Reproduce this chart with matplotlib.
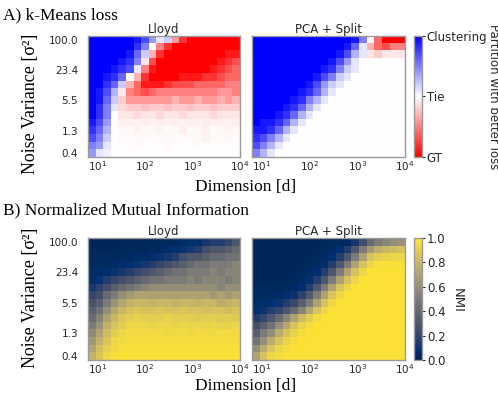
import matplotlib
matplotlib.use('Agg')
import matplotlib.pyplot as plt
import numpy as np

# rows: noise variance from 100.0 (top) down to 0.4, cols: dimension 10^0.8 .. 10^4
noise_labels = ['100.0', '23.4', '5.5', '1.3', '0.4']
noise_label_rows = [0, 4, 8, 12, 15]
dim_labels = [r'$10^{1}$', r'$10^{2}$', r'$10^{3}$', r'$10^{4}$']
dim_label_pos = [1, 2, 3, 4]
log_dim_range = (0.8, 4.0)

# k-means loss: +10 = clustering better, -10 = ground truth better (tenths)
loss_lloyd = [
    "10 10 10 10 10 10 9 7 4 1 2 -4 -8 -10 -10 -10 -10 -10 -10 -10",
    "10 10 10 10 10 10 8 5 0 -5 -8 -10 -10 -10 -10 -10 -10 -10 -10 -10",
    "10 10 10 10 10 9 6 2 -3 -8 -10 -10 -10 -10 -10 -10 -10 -10 -9 -9",
    "10 10 10 10 9 8 5 -1 -7 -10 -10 -10 -10 -10 -10 -10 -10 -9 -8 -7",
    "10 10 10 9 8 7 1 -5 -9 -10 -10 -10 -10 -10 -10 -10 -9 -8 -7 -6",
    "10 10 9 8 6 0 -3 -8 -10 -10 -10 -10 -9 -9 -9 -8 -8 -7 -6 -6",
    "10 10 8 6 2 -3 -6 -9 -9 -9 -8 -7 -7 -7 -6 -6 -6 -6 -5 -5",
    "10 9 7 3 -1 -5 -6 -7 -6 -5 -5 -5 -5 -5 -5 -5 -5 -4 -4 -5",
    "10 9 6 2 -2 -4 -4 -4 -4 -4 -4 -3 -4 -4 -3 -4 -4 -3 -4 -3",
    "10 8 5 1 -1.5 -2 -2 -2.5 -2 -2 -2.5 -2 -2 -2.5 -2 -2 -2.5 -2 -2 -2",
    "10 8 5 0 -1 -1 -1.5 -1 -1 -1.5 -1 -1 -1.5 -1 -1 -1 -1.5 -1 -1 -1",
    "9 7 4 0 -0.5 -0.7 -0.5 -0.7 -0.5 -0.7 -0.5 -0.7 -0.5 -0.7 -0.5 -0.7 -0.5 -0.7 -0.5 -0.7",
    "8 6 3 0 -0.3 -0.2 -0.5 -0.2 -0.3 -0.5 -0.2 -0.3 -0.6 -0.2 -0.3 -0.6 -0.2 -0.3 -0.5 -0.3",
    "7 5 2 0 -0.2 -0.2 -0.2 -0.3 -0.2 -0.2 -0.3 -0.2 -0.2 -0.3 -0.2 -0.5 -0.2 -0.2 -0.3 -0.2",
    "5 4 1 0 -0.1 -0.1 -0.2 -0.1 -0.1 -0.1 -0.2 -0.1 -0.1 -0.1 -0.2 -0.1 -0.1 -0.1 -0.1 -0.1",
    "4 1 0.5 0 0 -0.1 0 -0.1 0 0 -0.1 0 0 -0.1 0 0 -0.1 0 0 0",
]
loss_pca = [
    "10 10 10 10 10 10 10 10 10 10 10 10 10 9 5 0 -6 -10 -10 -10",
    "10 10 10 10 10 10 10 10 10 10 10 10 9 6 1 -3 -6 -7 -5 -5",
    "10 10 10 10 10 10 10 10 10 10 10 9 7 3 1 -1 -2 -1 -1 -1",
    "10 10 10 10 10 10 10 10 10 10 9 7 4 1 0 0 0 0 0 0",
    "10 10 10 10 10 10 10 10 10 9 8 5 2 1 0 0 0 0 0 0",
    "10 10 10 10 10 10 10 10 9 7 5 2 1 0 0 0 0 0 0 0",
    "10 10 10 10 10 10 10 9 7 4 2 1 0 0 0 0 0 0 0 0",
    "10 10 10 10 10 10 9 8 6 3 1 0 0 0 0 0 0 0 0 0",
    "10 10 10 10 10 9 8 5 3 1 0 0 0 0 0 0 0 0 0 0",
    "10 10 10 10 9 8 6 3 1 0 0 0 0 0 0 0 0 0 0 0",
    "10 10 10 9 8 6 3 1 0 0 0 0 0 0 0 0 0 0 0 0",
    "10 9 9 8 6 3 1 0 0 0 0 0 0 0 0 0 0 0 0 0",
    "9 9 8 6 3 1 0 0 0 0 0 0 0 0 0 0 0 0 0 0",
    "8 7 5 3 1 0 0 0 0 0 0 0 0 0 0 0 0 0 0 0",
    "7 5 3 1 0 0 0 0 0 0 0 0 0 0 0 0 0 0 0 0",
    "5 3 1 0 0 0 0 0 0 0 0 0 0 0 0 0 0 0 0 0",
]

# normalized mutual information (percent)
nmi_lloyd = [
    "3 3 3 3 3 3 3 3 3 4 4 5 6 7 8 12 15 15 20 30",
    "3 3 3 3 3 4 4 4 5 5 6 8 10 12 15 25 30 30 35 40",
    "4 4 4 4 5 5 6 6 8 10 12 15 25 30 30 35 40 40 45 45",
    "5 5 5 6 7 8 10 12 15 20 25 30 35 40 45 45 50 50 50 55",
    "6 6 8 10 12 15 20 25 30 35 40 45 45 50 50 50 55 50 55 55",
    "7 10 15 20 25 30 35 40 45 45 50 50 50 55 50 55 55 55 50 55",
    "12 18 25 35 40 45 50 55 60 60 60 60 60 60 60 60 60 55 60 60",
    "20 25 40 50 60 65 70 70 70 70 70 70 70 70 70 70 65 70 65 70",
    "28 35 50 62 72 78 80 80 78 80 80 78 80 80 78 80 80 75 78 80",
    "35 45 60 72 80 85 87 85 85 87 85 85 87 85 85 83 85 85 82 85",
    "42 55 70 80 87 90 92 90 90 90 92 90 90 90 88 90 90 88 90 88",
    "50 62 77 85 90 93 93 93 92 93 93 92 93 92 93 92 93 92 92 93",
    "58 70 82 90 93 95 95 95 95 95 94 95 95 94 95 95 94 95 95 95",
    "65 77 87 93 95 96 96 96 96 96 96 96 96 96 96 96 96 96 96 96",
    "72 83 91 95 97 97 97 97 97 97 97 97 97 97 97 97 97 97 97 97",
    "78 87 94 97 98 98 98 98 98 98 98 98 98 98 98 98 98 98 98 98",
]
nmi_pca = [
    "3 3 3 3 3 3 3 3 3 3 4 4 5 12 25 40 50 55 60 62",
    "3 3 3 3 3 3 3 3 3 4 5 8 15 30 50 65 75 80 82 85",
    "3 3 3 3 3 3 3 3 4 5 8 15 30 50 70 85 90 92 93 93",
    "3 3 3 3 3 3 3 4 5 8 15 30 50 70 85 93 97 97 97 97",
    "3 3 3 3 3 3 4 5 8 15 30 50 70 85 93 98 98 98 98 98",
    "3 3 3 3 3 4 5 8 15 30 50 70 85 93 98 98 98 98 98 98",
    "4 4 4 4 4 5 8 15 30 50 70 85 93 98 98 98 98 98 98 98",
    "5 5 5 6 8 10 18 32 50 70 85 93 98 98 98 98 98 98 98 98",
    "6 7 8 10 15 22 35 50 70 85 93 98 98 98 98 98 98 98 98 98",
    "8 10 15 20 30 40 55 72 85 93 98 98 98 98 98 98 98 98 98 98",
    "15 20 30 40 55 70 82 90 95 98 98 98 98 98 98 98 98 98 98 98",
    "25 35 45 60 72 85 92 96 98 98 98 98 98 98 98 98 98 98 98 98",
    "35 50 60 75 85 92 96 98 98 98 98 98 98 98 98 98 98 98 98 98",
    "45 60 75 85 92 96 98 98 98 98 98 98 98 98 98 98 98 98 98 98",
    "60 75 87 93 96 98 98 98 98 98 98 98 98 98 98 98 98 98 98 98",
    "70 85 93 96 98 98 98 98 98 98 98 98 98 98 98 98 98 98 98 98",
]


def parse(rows, scale):
    return np.array([r.split() for r in rows], dtype=float) / scale


W, H = 498, 396
def box(x0, y0, x1, y1):
    # pixel box -> figure fraction
    return [x0 / W, 1 - y1 / H, (x1 - x0) / W, (y1 - y0) / H]


plt.rcParams['font.family'] = 'DejaVu Sans'
text_col = '#262626'
spine_col = '0.6'
serif = 'Liberation Serif'

fig = plt.figure(figsize=(W / 100, H / 100), dpi=100)


def heat(ax, data, cmap, vmin, vmax, title, show_y):
    n_rows = data.shape[0]
    im = ax.imshow(data, cmap=cmap, vmin=vmin, vmax=vmax, aspect='auto',
                   interpolation='nearest',
                   extent=(log_dim_range[0], log_dim_range[1], n_rows - 0.5, -0.5))
    ax.set_title(title, fontsize=8.5, pad=2, color=text_col)
    ax.set_xticks(dim_label_pos)
    ax.set_xticklabels(dim_labels)
    ax.set_yticks(noise_label_rows)
    ax.set_yticklabels(noise_labels if show_y else [])
    ax.tick_params(axis='both', length=0, labelsize=7.5, colors=text_col)
    ax.tick_params(axis='x', pad=1.5)
    ax.tick_params(axis='y', pad=7)
    for s in ax.spines.values():
        s.set_color(spine_col)
        s.set_linewidth(1)
    return im


def cbar(cax, im, ticks, labels, label, label_xy, label_size):
    cb = fig.colorbar(im, cax=cax, ticks=ticks)
    cb.ax.set_yticklabels(labels)
    cb.ax.tick_params(labelsize=8.5, colors=text_col, length=2.5, width=0.8, pad=1)
    cb.outline.set_edgecolor(spine_col)
    cb.outline.set_linewidth(1)
    fig.text(label_xy[0] / W, 1 - label_xy[1] / H, label, rotation=270,
             ha='center', va='center', fontsize=label_size, color=text_col)


# ---- A) k-Means loss
ax1 = fig.add_axes(box(88, 36, 240, 157))
ax2 = fig.add_axes(box(252, 36, 405, 157))
cax_a = fig.add_axes(box(414, 36, 422, 157))
im = heat(ax1, parse(loss_lloyd, 10), 'bwr_r', -1, 1, 'Lloyd', True)
heat(ax2, parse(loss_pca, 10), 'bwr_r', -1, 1, 'PCA + Split', False)
cbar(cax_a, im, [1, 0, -1], ['Clustering', 'Tie', 'GT'],
     'Partition with better loss', (493, 97), 8.5)

# ---- B) NMI
ax3 = fig.add_axes(box(88, 238, 240, 360))
ax4 = fig.add_axes(box(252, 238, 405, 360))
cax_b = fig.add_axes(box(414, 238, 422, 360))
im = heat(ax3, parse(nmi_lloyd, 100), 'cividis', 0, 1, 'Lloyd', True)
heat(ax4, parse(nmi_pca, 100), 'cividis', 0, 1, 'PCA + Split', False)
cbar(cax_b, im, [0, 0.2, 0.4, 0.6, 0.8, 1.0],
     ['0.0', '0.2', '0.4', '0.6', '0.8', '1.0'], 'NMI', (457, 300), 9.5)

# section titles and shared labels (serif)
fig.text(3 / W, 1 - 15 / H, 'A) k-Means loss', family=serif, fontsize=12.5,
         ha='left', va='center')
fig.text(3 / W, 1 - 210 / H, 'B) Normalized Mutual Information', family=serif,
         fontsize=12.5, ha='left', va='center')
for yc in (104, 298):
    fig.text(31 / W, 1 - yc / H, 'Noise Variance [σ²]', family=serif,
             fontsize=13, rotation=90, ha='center', va='center')
for yc in (187, 386):
    fig.text(246 / W, 1 - yc / H, 'Dimension [d]', family=serif,
             fontsize=12.5, ha='center', va='center')

fig.savefig('out.png', dpi=100)
